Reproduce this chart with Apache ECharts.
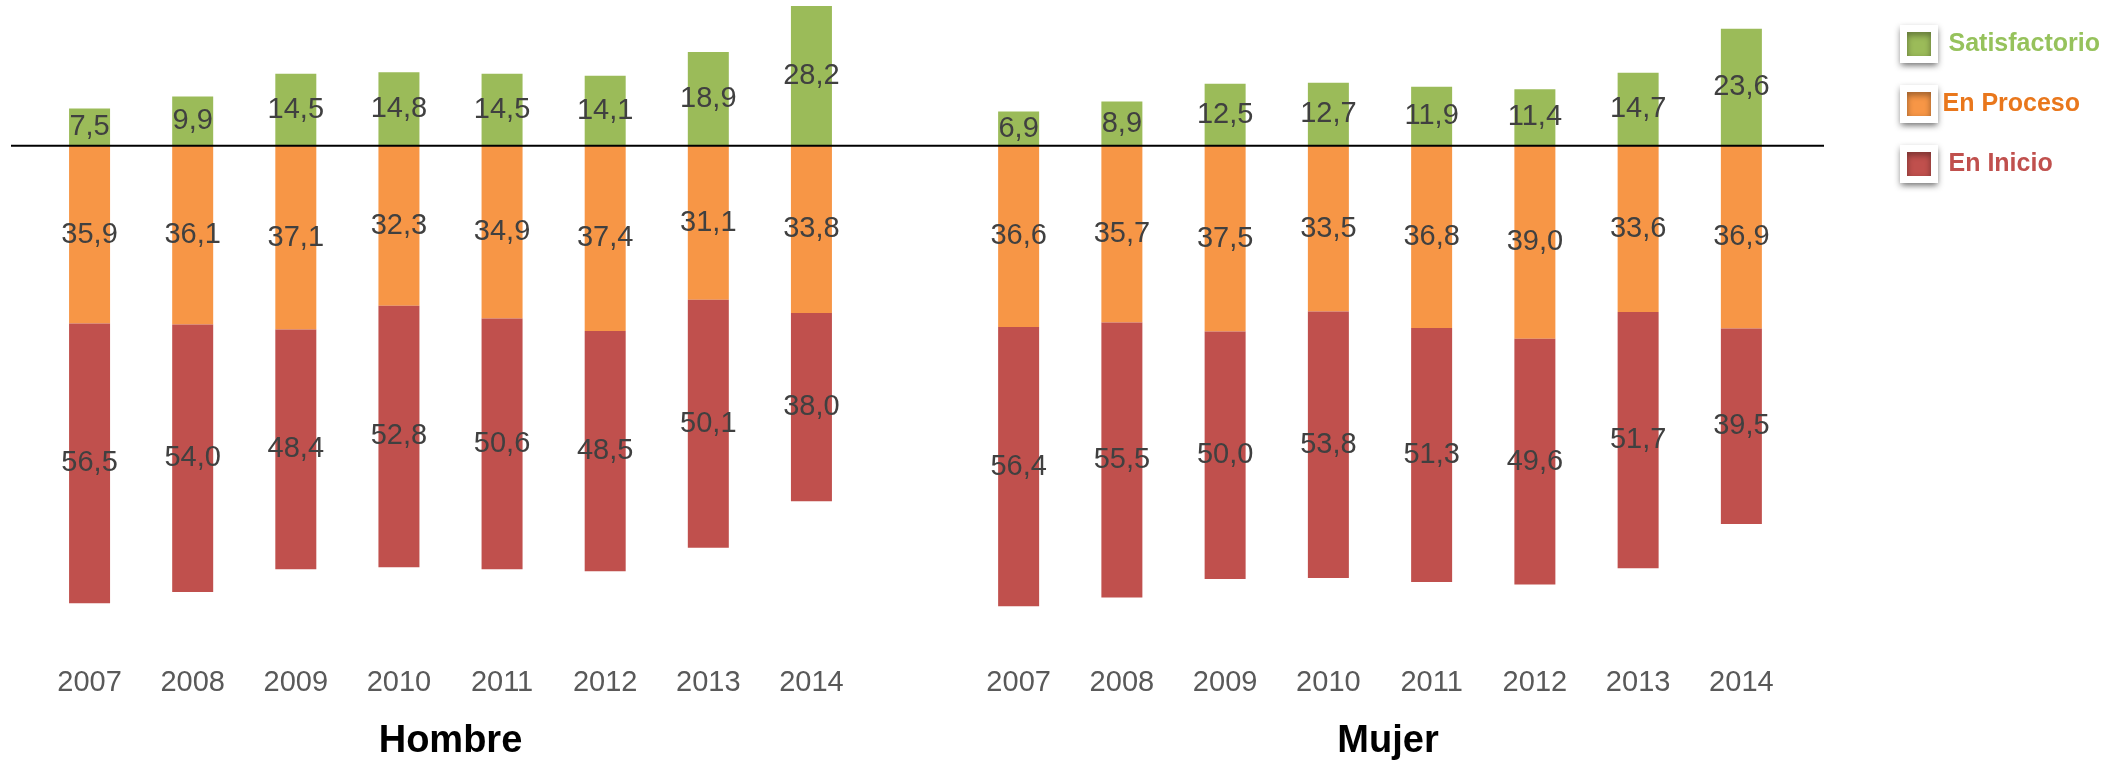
<!DOCTYPE html>
<html>
<head>
<meta charset="utf-8">
<title>Niveles de logro por sexo</title>
<script src="https://cdn.jsdelivr.net/npm/echarts@6/dist/echarts.min.js"></script>
<style>
  html, body { margin: 0; padding: 0; background: #fff; }
  #main { width: 2108px; height: 761px; }
</style>
</head>
<body>
<div id="main"></div>
<script>
  // datos (porcentajes)
  var years = ['2007', '2008', '2009', '2010', '2011', '2012', '2013', '2014'];
  var hombreSatisfactorio = [7.5, 9.9, 14.5, 14.8, 14.5, 14.1, 18.9, 28.2];
  var hombreProceso = [35.9, 36.1, 37.1, 32.3, 34.9, 37.4, 31.1, 33.8];
  var hombreInicio = [56.5, 54.0, 48.4, 52.8, 50.6, 48.5, 50.1, 38.0];
  var mujerSatisfactorio = [6.9, 8.9, 12.5, 12.7, 11.9, 11.4, 14.7, 23.6];
  var mujerProceso = [36.6, 35.7, 37.5, 33.5, 36.8, 39.0, 33.6, 36.9];
  var mujerInicio = [56.4, 55.5, 50.0, 53.8, 51.3, 49.6, 51.7, 39.5];

  var FONT = '"Liberation Sans", sans-serif';
  var VERDE = '#9BBB59', NARANJA = '#F79646', ROJO = '#C0504D';

  function neg(arr) { return arr.map(function (v) { return -v; }); }
  function fmt(p) { return Math.abs(p.value).toFixed(1).replace('.', ','); }

  var label = {
    show: true,
    position: 'inside',
    formatter: fmt,
    color: '#404040',
    fontFamily: FONT,
    fontSize: 29
  };

  function bar(name, data, color, idx) {
    return {
      name: name,
      type: 'bar',
      stack: 'g' + idx,
      xAxisIndex: idx,
      yAxisIndex: idx,
      barWidth: 41,
      data: data,
      itemStyle: { color: color },
      label: label,
      emphasis: { disabled: true }
    };
  }

  function xAxis(idx, name, pad) {
    return {
      type: 'category',
      gridIndex: idx,
      data: years,
      position: 'bottom',
      axisLine: { show: false, onZero: false },
      axisTick: { show: false },
      axisLabel: { color: '#595959', fontFamily: FONT, fontSize: 29, margin: 27 },
      name: name,
      nameLocation: 'middle',
      nameGap: 82,
      nameTextStyle: { color: '#000', fontFamily: FONT, fontSize: 38, fontWeight: 'bold', padding: pad }
    };
  }

  function yAxis(idx) {
    return { type: 'value', gridIndex: idx, min: -100, max: 29, show: false, splitLine: { show: false } };
  }

  var chart = echarts.init(document.getElementById('main'));
  chart.setOption({
    animation: false,
    legend: {
      orient: 'vertical',
      left: 1895,
      top: 20,
      icon: 'rect',
      itemWidth: 31,
      itemHeight: 31,
      itemGap: 22,
      itemStyle: {
        borderColor: '#fff',
        borderWidth: 7,
        shadowBlur: 6,
        shadowOffsetY: 3,
        shadowColor: 'rgba(0,0,0,0.4)'
      },
      textStyle: { fontFamily: FONT, fontSize: 25, fontWeight: 'bold', padding: [0, 0, 0, 3] },
      data: [
        { name: 'Satisfactorio', textStyle: { color: '#96C25C', padding: [0, 0, 0, 9] } },
        { name: 'En Proceso', textStyle: { color: '#E9771C' } },
        { name: 'En Inicio', textStyle: { color: '#C0504D', padding: [0, 0, 0, 9] } }
      ]
    },
    grid: [
      { left: 38, width: 825, top: 2, height: 639, outerBoundsMode: 'none' },
      { left: 967, width: 826, top: 2, height: 639, outerBoundsMode: 'none' }
    ],
    xAxis: [xAxis(0, 'Hombre', 0), xAxis(1, 'Mujer', [0, 0, 0, 16])],
    yAxis: [yAxis(0), yAxis(1)],
    series: [
      bar('Satisfactorio', hombreSatisfactorio, VERDE, 0),
      bar('En Proceso', neg(hombreProceso), NARANJA, 0),
      bar('En Inicio', neg(hombreInicio), ROJO, 0),
      bar('Satisfactorio', mujerSatisfactorio, VERDE, 1),
      bar('En Proceso', neg(mujerProceso), NARANJA, 1),
      bar('En Inicio', neg(mujerInicio), ROJO, 1)
    ]
  });

  // linea base en el cero
  var y0 = chart.convertToPixel({ yAxisIndex: 0 }, 0);
  chart.setOption({
    graphic: [{
      type: 'line',
      z: 10,
      shape: { x1: 11, y1: y0, x2: 1824, y2: y0 },
      style: { stroke: '#000', lineWidth: 2 }
    }]
  });
</script>
</body>
</html>
